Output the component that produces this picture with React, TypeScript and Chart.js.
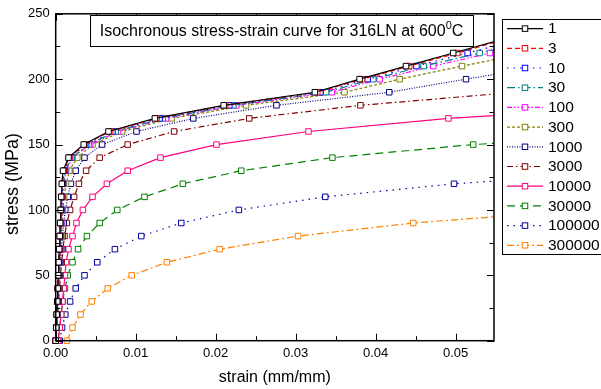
import React, { useEffect, useRef } from "react";
import { Chart, registerables } from "chart.js";
Chart.register(...registerables);

// Stress levels (MPa) shared by every isochronous curve
const STRESS = [0, 10, 20, 30, 40, 50, 60, 70, 80, 90, 100, 110, 120, 130, 140, 150, 160, 170, 180, 190, 200, 210, 220, 230];

// Legend labels (time, h)
const TIMES = ["1", "3", "10", "30", "100", "300", "1000", "3000", "10000", "30000", "100000", "300000"];

// Strain (mm/mm) at each stress level, per curve
const STRAIN_1 = [0, 0.00006, 0.00012, 0.00019, 0.00025, 0.00031, 0.00037, 0.00043, 0.0005, 0.00056, 0.00062, 0.00069, 0.00076, 0.00092, 0.0016, 0.0035, 0.0066, 0.0124, 0.021, 0.0324, 0.038, 0.0438, 0.0497, 0.0556];
const STRAIN_3 = [0, 0.00007, 0.00013, 0.0002, 0.00026, 0.00033, 0.00039, 0.00046, 0.00052, 0.00059, 0.00066, 0.00073, 0.00081, 0.001, 0.0017, 0.0036, 0.0068, 0.0126, 0.0212, 0.0327, 0.0383, 0.0442, 0.0502, 0.056];
const STRAIN_10 = [0, 0.00007, 0.00014, 0.00021, 0.00028, 0.00035, 0.00042, 0.00049, 0.00056, 0.00063, 0.0007, 0.00078, 0.00088, 0.0011, 0.0018, 0.0038, 0.0071, 0.013, 0.0217, 0.0331, 0.039, 0.0451, 0.0515, 0.0578];
const STRAIN_30 = [0, 0.00008, 0.00015, 0.00022, 0.0003, 0.00037, 0.00045, 0.00052, 0.0006, 0.00067, 0.00075, 0.00084, 0.00095, 0.0012, 0.002, 0.0041, 0.0075, 0.0134, 0.0222, 0.0338, 0.0397, 0.046, 0.053, 0.06];
const STRAIN_100 = [0, 0.00008, 0.00016, 0.00024, 0.00032, 0.0004, 0.00048, 0.00056, 0.00064, 0.00072, 0.0008, 0.0009, 0.00103, 0.0013, 0.0021, 0.0043, 0.0078, 0.0138, 0.0226, 0.0345, 0.0405, 0.0472, 0.0543, 0.0615];
const STRAIN_300 = [0, 0.00009, 0.00017, 0.00026, 0.00035, 0.00044, 0.00053, 0.00062, 0.00071, 0.0008, 0.0009, 0.00105, 0.0013, 0.0017, 0.0027, 0.0046, 0.0083, 0.0145, 0.0238, 0.0361, 0.043, 0.0508, 0.059];
const STRAIN_1000 = [0, 0.0001, 0.0002, 0.0003, 0.0004, 0.0005, 0.0006, 0.0007, 0.00085, 0.001, 0.0012, 0.0015, 0.0019, 0.0025, 0.0036, 0.0058, 0.0101, 0.0172, 0.0276, 0.0417, 0.0513, 0.061];
const STRAIN_3000 = [0, 0.00012, 0.00024, 0.00036, 0.00048, 0.0006, 0.00074, 0.0009, 0.0011, 0.0014, 0.0018, 0.0023, 0.0029, 0.0038, 0.0055, 0.009, 0.0148, 0.0242, 0.0381, 0.0575];
const STRAIN_10000 = [0.0003, 0.0005, 0.00068, 0.00085, 0.001, 0.00115, 0.0013, 0.0016, 0.0021, 0.0026, 0.0034, 0.0046, 0.0064, 0.009, 0.0131, 0.0201, 0.0316, 0.0491, 0.075];
const STRAIN_30000 = [0.0003, 0.0005, 0.0007, 0.00087, 0.00116, 0.0015, 0.0021, 0.0028, 0.0039, 0.0055, 0.0077, 0.0111, 0.0159, 0.0232, 0.0346, 0.0522, 0.08];
const STRAIN_100000 = [0.0005, 0.0008, 0.0012, 0.0018, 0.0025, 0.0036, 0.0052, 0.0074, 0.0107, 0.0157, 0.0229, 0.0337, 0.0498, 0.074];
const STRAIN_300000 = [0.0014, 0.0021, 0.0031, 0.0045, 0.0065, 0.0095, 0.0139, 0.0205, 0.0303, 0.0447, 0.066];

const STRAINS = [STRAIN_1, STRAIN_3, STRAIN_10, STRAIN_30, STRAIN_100, STRAIN_300, STRAIN_1000, STRAIN_3000, STRAIN_10000, STRAIN_30000, STRAIN_100000, STRAIN_300000];

// Styles
const COLORS = ["#000000", "#FF0000", "#0000FF", "#008080", "#FF00FF", "#808000", "#000080", "#800000", "#FF0080", "#008000", "#0000A0", "#FF8000"];
const DASHES: number[][] = [[], [5, 3], [1.5, 5], [8, 3, 1.5, 3], [5, 2, 1.5, 2, 1.5, 2], [3, 2], [1, 1.5], [6, 3, 1.5, 3], [], [8, 5], [1.5, 5], [7, 3, 2, 3]];

const X_TICKS = [0, 0.01, 0.02, 0.03, 0.04, 0.05];
const Y_TICKS = [0, 50, 100, 150, 200, 250];
const X_MAX = 0.0548;
const Y_MAX = 250;

const FONT = "'Liberation Sans', Arial, sans-serif";
const CHART_LEFT = 55.7;
const CHART_RIGHT = 494;
const CHART_TOP = 13.3;
const CHART_BOTTOM = 340.7;
const W = 601;
const H = 389;

function drawMarker(ctx: CanvasRenderingContext2D, x: number, y: number, color: string) {
  const s = 5.5;
  ctx.setLineDash([]);
  ctx.fillStyle = "#fff";
  ctx.fillRect(x - s / 2, y - s / 2, s, s);
  ctx.strokeStyle = color;
  ctx.lineWidth = 1;
  ctx.strokeRect(x - s / 2, y - s / 2, s, s);
}

const decorPlugin = {
  id: "decor",
  afterDatasetsDraw(chart: any) {
    const { ctx, chartArea: a, scales } = chart;
    const xs = scales.x;
    const ys = scales.y;
    ctx.save();
    ctx.setLineDash([]);
    ctx.strokeStyle = "#000";
    ctx.lineWidth = 1.5;
    ctx.strokeRect(a.left, a.top, a.right - a.left, a.bottom - a.top);
    ctx.lineWidth = 1;
    for (let k = 0; k * 0.005 <= X_MAX + 1e-9; k++) {
      const v = k * 0.005;
      const px = Math.round(xs.getPixelForValue(v)) + 0.5;
      const len = k % 2 === 0 ? 7 : 4.5;
      ctx.beginPath();
      ctx.moveTo(px, a.bottom);
      ctx.lineTo(px, a.bottom - len);
      ctx.moveTo(px, a.top);
      ctx.lineTo(px, a.top + len);
      ctx.stroke();
    }
    for (let k = 0; k * 25 <= Y_MAX; k++) {
      const v = k * 25;
      const py = Math.round(ys.getPixelForValue(v)) + 0.5;
      const len = k % 2 === 0 ? 7 : 4.5;
      ctx.beginPath();
      ctx.moveTo(a.left, py);
      ctx.lineTo(a.left + len, py);
      ctx.moveTo(a.right, py);
      ctx.lineTo(a.right - len, py);
      ctx.stroke();
    }
    ctx.restore();
  },
  afterDraw(chart: any) {
    const { ctx, chartArea: a } = chart;
    ctx.save();
    ctx.setLineDash([]);
    // Title box
    ctx.fillStyle = "#fff";
    ctx.fillRect(90.5, 15.5, 383, 31);
    ctx.strokeStyle = "#000";
    ctx.lineWidth = 1;
    ctx.strokeRect(90.5, 15.5, 383, 31);
    ctx.fillStyle = "#000";
    ctx.textBaseline = "middle";
    ctx.textAlign = "left";
    const main = "Isochronous stress-strain curve for 316LN at 600";
    ctx.font = `16px ${FONT}`;
    const w1 = ctx.measureText(main).width;
    const wC = ctx.measureText("C").width;
    ctx.font = `11px ${FONT}`;
    const w0 = ctx.measureText("0").width;
    const total = w1 + w0 + wC;
    let tx = 281.5 - total / 2;
    ctx.font = `16px ${FONT}`;
    ctx.fillText(main, tx, 32);
    ctx.font = `11px ${FONT}`;
    ctx.fillText("0", tx + w1, 25.5);
    ctx.font = `16px ${FONT}`;
    ctx.fillText("C", tx + w1 + w0, 32);

    // Axis titles
    ctx.textAlign = "center";
    ctx.font = `16px ${FONT}`;
    ctx.fillText("strain (mm/mm)", (a.left + a.right) / 2, 378);
    ctx.save();
    ctx.translate(13.5, 184);
    ctx.rotate(-Math.PI / 2);
    ctx.font = `18px ${FONT}`;
    ctx.fillText("stress (MPa)", 0, 0);
    ctx.restore();

    // Legend
    ctx.fillStyle = "#fff";
    ctx.fillRect(502.5, 19.5, 120, 235);
    ctx.strokeStyle = "#000";
    ctx.lineWidth = 1;
    ctx.strokeRect(502.5, 19.5, 120, 235);
    chart.data.datasets.forEach((ds: any, i: number) => {
      const y = 28.6 + i * 19.7;
      ctx.strokeStyle = ds.borderColor;
      ctx.lineWidth = ds.borderWidth;
      ctx.setLineDash(ds.borderDash || []);
      ctx.beginPath();
      ctx.moveTo(507, y);
      ctx.lineTo(543, y);
      ctx.stroke();
      drawMarker(ctx, 525, y, ds.borderColor);
      ctx.fillStyle = "#000";
      ctx.font = `15.5px ${FONT}`;
      ctx.textAlign = "left";
      ctx.textBaseline = "middle";
      ctx.fillText(ds.label, 548, y + 0.5);
    });
    ctx.restore();
  },
};

export default function App() {
  const ref = useRef<HTMLCanvasElement | null>(null);
  useEffect(() => {
    if (!ref.current) return;
    const datasets = STRAINS.map((arr, i) => ({
      label: TIMES[i],
      data: arr.map((x, j) => ({ x, y: STRESS[j] })),
      showLine: true,
      borderColor: COLORS[i],
      borderWidth: 1.2,
      borderDash: DASHES[i],
      pointStyle: "rect",
      pointRadius: 3.9,
      pointBorderWidth: 1,
      pointBackgroundColor: "#ffffff",
      pointBorderColor: COLORS[i],
      tension: 0,
      clip: { left: 6, top: 6, right: 0, bottom: 6 },
    }));
    const chart = new Chart(ref.current, {
      type: "scatter",
      data: { datasets },
      options: {
        animation: false,
        responsive: false,
        devicePixelRatio: 1,
        layout: { padding: { left: 0, right: W - CHART_RIGHT, top: CHART_TOP, bottom: 0 } },
        plugins: { legend: { display: false }, tooltip: { enabled: false } },
        scales: {
          x: {
            type: "linear",
            min: 0,
            max: X_MAX,
            grid: { display: false, drawTicks: false },
            border: { display: false },
            afterBuildTicks: (s: any) => {
              s.ticks = X_TICKS.map((v) => ({ value: v }));
            },
            afterFit: (s: any) => {
              s.height = H - CHART_BOTTOM;
            },
            ticks: {
              autoSkip: false,
              maxRotation: 0,
              padding: 5,
              color: "#000",
              font: { family: FONT, size: 13 },
              callback: (v: any) => Number(v).toFixed(2),
            },
          },
          y: {
            type: "linear",
            min: 0,
            max: Y_MAX,
            grid: { display: false, drawTicks: false },
            border: { display: false },
            afterBuildTicks: (s: any) => {
              s.ticks = Y_TICKS.map((v) => ({ value: v }));
            },
            afterFit: (s: any) => {
              s.width = CHART_LEFT;
            },
            ticks: {
              autoSkip: false,
              padding: 6,
              color: "#000",
              font: { family: FONT, size: 13 },
              callback: (v: any) => String(v),
            },
          },
        },
      },
      plugins: [decorPlugin],
    } as any);
    return () => chart.destroy();
  }, []);
  return (
    <div style={{ position: "fixed", left: 0, top: 0, width: W, height: H, background: "#fff" }}>
      <canvas ref={ref} width={W} height={H} style={{ display: "block", width: W, height: H }} />
    </div>
  );
}
